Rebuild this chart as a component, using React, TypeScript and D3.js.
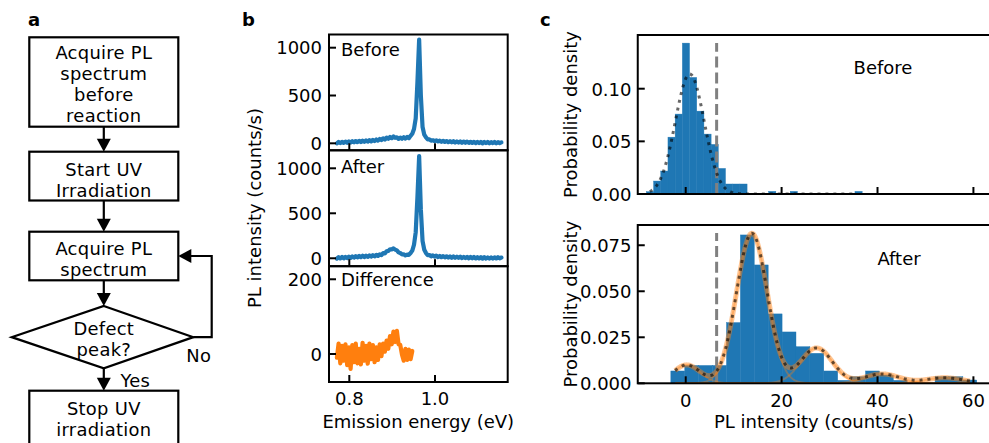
import React from "react";
import * as d3 from "d3";

const FONT = "'DejaVu Sans', sans-serif";
const BLUE = "#1f77b4";
const ORANGE = "#ff7f0e";

// ---------- Panel a: flowchart text ----------
const flowSteps: string[][] = [
  ["Acquire PL", "spectrum", "before", "reaction"],
  ["Start UV", "Irradiation"],
  ["Acquire PL", "spectrum"],
  ["Defect", "peak?"],
  ["Stop UV", "irradiation"],
];
const flowYes = "Yes";
const flowNo = "No";

// ---------- Panel b: spectra ----------
const energy = [
  0.771, 0.775, 0.779, 0.783, 0.787, 0.791, 0.795, 0.799, 0.803, 0.807,
  0.811, 0.815, 0.819, 0.823, 0.827, 0.831, 0.835, 0.839, 0.843, 0.847,
  0.851, 0.855, 0.859, 0.863, 0.867, 0.871, 0.875, 0.879, 0.883, 0.887,
  0.891, 0.895, 0.899, 0.903, 0.907, 0.911, 0.915, 0.919, 0.923, 0.927,
  0.931, 0.935, 0.939, 0.943, 0.947, 0.951, 0.955, 0.959, 0.963, 0.967,
  0.971, 0.975, 0.979, 0.983, 0.987, 0.991, 0.995, 0.999, 1.003, 1.007,
  1.011, 1.015, 1.019, 1.023, 1.027, 1.031, 1.035, 1.039, 1.043, 1.047,
  1.051, 1.055, 1.059, 1.063, 1.067, 1.071, 1.075, 1.079, 1.083, 1.087,
  1.091, 1.095, 1.099, 1.103, 1.107, 1.111, 1.115, 1.119, 1.123, 1.127,
  1.131, 1.135, 1.139, 1.143, 1.147, 1.151, 1.155,
];
const beforeCounts = [
  0, 14, 2, 16, 4, 18, 6, 20, 8, 22,
  10, 24, 12, 26, 14, 28, 16, 30, 18, 34,
  20, 36, 24, 40, 28, 46, 34, 52, 40, 60,
  48, 66, 54, 72, 58, 62, 46, 60, 48, 64,
  50, 66, 54, 78, 100, 150, 260, 640, 1085, 500,
  170, 90, 62, 42, 42, 28, 32, 24, 30, 20,
  28, 16, 26, 14, 24, 12, 22, 10, 22, 8,
  20, 8, 20, 6, 18, 6, 18, 4, 16, 4,
  16, 2, 16, 2, 14, 0, 14, 2, 14, 0,
  12, 2, 14, 0, 12, 2, 10,
];
const afterCounts = [
  -4, 12, -2, 14, 0, 16, 2, 18, 4, 20,
  8, 24, 10, 26, 12, 28, 14, 30, 16, 32,
  18, 34, 22, 38, 26, 44, 36, 58, 54, 78,
  82, 100, 100, 110, 96, 88, 66, 58, 44, 44,
  32, 40, 38, 58, 85, 150, 290, 680, 1135, 540,
  190, 95, 58, 36, 36, 22, 32, 18, 30, 14,
  26, 12, 24, 10, 22, 8, 20, 6, 20, 6,
  18, 4, 18, 2, 16, 2, 16, 0, 14, 0,
  14, -2, 12, -2, 12, -4, 12, -4, 10, -4,
  10, -4, 10, -2, 12, 0, 8,
];
const diffCounts = [
  -10, 28, -25, 22, -18, 26, -30, 18, -40, 24,
  -22, 28, -25, 14, -28, 30, -18, 22, -26, 28,
  -14, 24, -22, 18, -16, 26, -6, 28, 6, 36,
  14, 48, 26, 60, 32, 62, 26, 24, -2, -18,
  14, -16, 12, -14, 8,
];
const specLabels = ["Before", "After", "Difference"];
const specYTicks = [[0, 500, 1000], [0, 500, 1000], [0, 200]];
const energyTicks = [0.8, 1.0];

// ---------- Panel c: histograms ----------
const beforeEdges = [
  -8.2, -6.7, -5.2, -3.7, -2.2, -0.7, 0.8, 2.3, 3.8, 5.3, 6.8, 8.3, 9.8,
  11.3, 12.8, 14.3, 15.8, 17.3, 18.8, 20.3, 21.8, 23.3, 24.8, 26.3, 27.8,
  29.3, 30.8, 32.3, 33.8, 35.3, 36.8,
];
const beforeDensity = [
  0.0022, 0.0123, 0.0218, 0.054, 0.0759, 0.1433, 0.1107, 0.0787, 0.0569,
  0.0471, 0.0243, 0.0095, 0.0095, 0.0095, 0, 0, 0, 0.0025, 0, 0, 0.0025, 0,
  0, 0, 0, 0, 0, 0, 0, 0.0025,
];
const afterEdges = [
  -3.1, -0.2, 2.7, 5.6, 8.5, 11.4, 14.3, 17.2, 20.1, 23.0, 25.9, 28.8, 31.7,
  34.6, 37.5, 40.4, 43.3, 46.2, 49.1, 52.0, 54.9, 57.8, 60.7,
];
const afterDensity = [
  0.0067, 0.0097, 0.0097, 0.0097, 0.033, 0.0806, 0.0643, 0.0377, 0.0279,
  0.0199, 0.0163, 0.0067, 0.0016, 0.0036, 0.0067, 0.0045, 0.0016, 0, 0,
  0.0036, 0.0036, 0.0018,
];
const beforeFitMeans = [0.85];
const beforeFitAmps = [0.114];
const beforeFitSigmas = [3.0];
const beforeFitRange = [-7.5, 35];
const afterFitMeans = [0.2, 13.8, 27.3, 40.9, 54.0];
const afterFitAmps = [0.01, 0.0815, 0.0192, 0.0051, 0.003];
const afterFitSigmas = [2.8, 3.2, 3.3, 3.6, 3.9];
const afterFitRange = [-2.2, 59.3];
const threshold = 6.45;
const intensityTicks = [0, 20, 40, 60];
const densTicksTop = [0, 0.05, 0.1];
const densTicksBot = [0, 0.025, 0.05, 0.075];

const gauss = (x: number, m: number, a: number, s: number) =>
  a * Math.exp(-((x - m) * (x - m)) / (2 * s * s));

function Arrow({ x, y1, y2 }: { x: number; y1: number; y2: number }) {
  const hl = 13, hw = 7;
  return (
    <g>
      <line x1={x} y1={y1} x2={x} y2={y2 - hl + 1} stroke="#000" strokeWidth={2.2} />
      <polygon points={`${x - hw},${y2 - hl} ${x + hw},${y2 - hl} ${x},${y2}`} fill="#000" />
    </g>
  );
}

function MultiLine({ x, y0, lines, gap }: { x: number; y0: number; lines: string[]; gap: number }) {
  return (
    <text x={x} y={y0}>
      {lines.map((s, j) => (
        <tspan key={j} x={x} dy={j === 0 ? 0 : gap}>{s}</tspan>
      ))}
    </text>
  );
}

export default function App() {
  const fs = 18;
  const ffs = 17.9;
  // ----- panel a geometry
  const bL = 29.3, bR = 178.3, cx = 103.8;
  const gap = 21;
  const boxes = [
    { t: 37.3, b: 126.7, y0: 58.9 },
    { t: 151.7, b: 200.5, y0: 175.8 },
    { t: 231.7, b: 280.3, y0: 254.8 },
  ];
  const dia = { t: 306, b: 368.3, l: 11.7, r: 193.3, y0: 334.6 };
  const last = { t: 390.7, y0: 414.8 };

  // ----- panel b
  const xB = d3.scaleLinear().domain([0.7526, 1.1697]).range([329, 507.7]);
  const bRows = [
    { top: 34.5, bottom: 150.3, dom: [-73, 1138], data: beforeCounts, e: energy, color: BLUE, lbl: 56 },
    { top: 150.3, bottom: 266.2, dom: [-88, 1200], data: afterCounts, e: energy, color: BLUE, lbl: 172.5 },
    { top: 266.2, bottom: 382, dom: [-75, 235], data: diffCounts, e: energy.slice(0, diffCounts.length), color: ORANGE, lbl: 285.5 },
  ];

  // ----- panel c
  const xC = d3.scaleLinear().domain([-10, 63.5]).range([637.75, 990.2]);
  const cRows = [
    {
      top: 35, bottom: 194, y: d3.scaleLinear().domain([0, 0.151]).range([194, 35]),
      edges: beforeEdges, dens: beforeDensity, ticks: densTicksTop, fmt: d3.format(".2f"),
      means: beforeFitMeans, amps: beforeFitAmps, sigs: beforeFitSigmas, range: beforeFitRange,
      label: "Before", lx: 883, ly: 74, comps: false,
    },
    {
      top: 225, bottom: 383.3, y: d3.scaleLinear().domain([0, 0.086]).range([383.3, 225]),
      edges: afterEdges, dens: afterDensity, ticks: densTicksBot, fmt: d3.format(".3f"),
      means: afterFitMeans, amps: afterFitAmps, sigs: afterFitSigmas, range: afterFitRange,
      label: "After", lx: 899, ly: 265, comps: true,
    },
  ];

  const tl = 7;
  const sw = 2;

  return (
    <svg width={989} height={443} style={{ position: "absolute", left: 0, top: 0, background: "#fff" }} fontFamily={FONT}>
      <defs>
        {bRows.map((r, i) => (
          <clipPath id={`cb${i}`} key={i}>
            <rect x={329} y={r.top} width={507.7 - 329} height={r.bottom - r.top} />
          </clipPath>
        ))}
        {cRows.map((r, i) => (
          <clipPath id={`cc${i}`} key={i}>
            <rect x={637.75} y={r.top} width={990.2 - 637.75} height={r.bottom - r.top} />
          </clipPath>
        ))}
      </defs>

      {/* panel letters */}
      <text x={28} y={26} fontSize={fs} fontWeight="bold">a</text>
      <text x={242} y={26} fontSize={fs} fontWeight="bold">b</text>
      <text x={540} y={26} fontSize={fs} fontWeight="bold">c</text>

      {/* ---------- Panel a ---------- */}
      <g fontSize={ffs} textAnchor="middle" letterSpacing={0.3}>
        {boxes.map((bx, i) => (
          <g key={i}>
            <rect x={bL} y={bx.t} width={bR - bL} height={bx.b - bx.t} fill="#fff" stroke="#000" strokeWidth={2.2} />
            <MultiLine x={cx} y0={bx.y0} lines={flowSteps[i]} gap={gap} />
          </g>
        ))}
        <polygon
          points={`${cx},${dia.t} ${dia.r},${(dia.t + dia.b) / 2} ${cx},${dia.b} ${dia.l},${(dia.t + dia.b) / 2}`}
          fill="#fff" stroke="#000" strokeWidth={2.2} strokeLinejoin="miter"
        />
        <MultiLine x={cx} y0={dia.y0} lines={flowSteps[3]} gap={gap} />
        <rect x={bL} y={last.t} width={bR - bL} height={80} fill="#fff" stroke="#000" strokeWidth={2.2} />
        <MultiLine x={cx} y0={last.y0} lines={flowSteps[4]} gap={gap} />
        <Arrow x={cx} y1={boxes[0].b} y2={boxes[1].t} />
        <Arrow x={cx} y1={boxes[1].b} y2={boxes[2].t} />
        <Arrow x={cx} y1={boxes[2].b} y2={dia.t} />
        <Arrow x={cx} y1={dia.b} y2={last.t} />
        <polyline
          points={`${dia.r},${(dia.t + dia.b) / 2} 211.7,${(dia.t + dia.b) / 2} 211.7,256 ${bR + 12},256`}
          fill="none" stroke="#000" strokeWidth={2.2}
        />
        <polygon points={`${bR},256 ${bR + 13},249 ${bR + 13},263`} fill="#000" />
        <text x={198.7} y={361.7}>{flowNo}</text>
        <text x={135.3} y={386.5}>{flowYes}</text>
      </g>

      {/* ---------- Panel b ---------- */}
      {bRows.map((r, i) => {
        const y = d3.scaleLinear().domain(r.dom).range([r.bottom, r.top]);
        const pts: [number, number][] = r.data.map((v, k) => [r.e[k], v]);
        const line = d3.line<[number, number]>().x((d) => xB(d[0])).y((d) => y(d[1]));
        return (
          <g key={i}>
            <path d={line(pts) || ""} fill="none" stroke={r.color} strokeWidth={4.2}
              strokeLinejoin="round" strokeLinecap="round" clipPath={`url(#cb${i})`} />
            {specYTicks[i].map((t) => (
              <g key={t}>
                <line x1={329} x2={329 + tl} y1={y(t)} y2={y(t)} stroke="#000" strokeWidth={sw} />
                <text x={322} y={y(t) + 6.8} fontSize={fs} textAnchor="end">{t}</text>
              </g>
            ))}
            {energyTicks.map((t) => (
              <line key={t} x1={xB(t)} x2={xB(t)} y1={r.bottom} y2={r.bottom - tl} stroke="#000" strokeWidth={sw} />
            ))}
            <text x={341} y={r.lbl} fontSize={fs}>{specLabels[i]}</text>
            <rect x={329} y={r.top} width={507.7 - 329} height={r.bottom - r.top} fill="none" stroke="#000" strokeWidth={sw} />
          </g>
        );
      })}
      {energyTicks.map((t) => (
        <text key={t} x={xB(t)} y={405} fontSize={fs} textAnchor="middle">{d3.format(".1f")(t)}</text>
      ))}
      <text x={418.3} y={428} fontSize={fs} textAnchor="middle">Emission energy (eV)</text>
      <text transform={`translate(261,208) rotate(-90)`} fontSize={fs} textAnchor="middle">PL intensity (counts/s)</text>

      {/* ---------- Panel c ---------- */}
      {cRows.map((r, i) => {
        const y = r.y;
        const xs = d3.range(r.range[0], r.range[1] + 0.001, 0.1);
        const total = d3.line<number>().x((x) => xC(x)).y((x) =>
          y(r.means.reduce((s, m, k) => s + gauss(x, m, r.amps[k], r.sigs[k]), 0))
        );
        const comp = (k: number) =>
          d3.line<number>().x((x) => xC(x)).y((x) => y(gauss(x, r.means[k], r.amps[k], r.sigs[k])))(xs) || "";
        return (
          <g key={i}>
            <g clipPath={`url(#cc${i})`}>
              {r.dens.map((d, k) =>
                d > 0 ? (
                  <rect key={k} x={xC(r.edges[k])} width={xC(r.edges[k + 1]) - xC(r.edges[k])}
                    y={y(d)} height={y(0) - y(d)} fill={BLUE} stroke={BLUE} strokeWidth={0.4} />
                ) : null
              )}
              <line x1={xC(threshold)} x2={xC(threshold)} y1={r.bottom} y2={r.bottom - 0.95 * (r.bottom - r.top)}
                stroke="#808080" strokeWidth={3} strokeDasharray="11 4.8" />
              {r.comps && r.means.map((_, k) => (
                <path key={k} d={comp(k)} fill="none" stroke={ORANGE} strokeOpacity={0.35} strokeWidth={2} />
              ))}
              {r.comps && (
                <path d={total(xs) || ""} fill="none" stroke={ORANGE} strokeOpacity={0.45} strokeWidth={5} />
              )}
              <path d={total(xs) || ""} fill="none" stroke="#000" strokeOpacity={0.6} strokeWidth={3}
                strokeDasharray="3 4.95" />
            </g>
            {r.ticks.map((t) => (
              <g key={t}>
                <line x1={637.75} x2={637.75 + tl} y1={y(t)} y2={y(t)} stroke="#000" strokeWidth={sw} />
                <text x={631.5} y={y(t) + 6.8} fontSize={fs} textAnchor="end">{r.fmt(t)}</text>
              </g>
            ))}
            {intensityTicks.map((t) => (
              <line key={t} x1={xC(t)} x2={xC(t)} y1={r.bottom} y2={r.bottom - tl} stroke="#000" strokeWidth={sw} />
            ))}
            <rect x={637.75} y={r.top} width={990.2 - 637.75} height={r.bottom - r.top} fill="none" stroke="#000" strokeWidth={sw} />
            <text x={r.lx} y={r.ly} fontSize={fs} textAnchor="middle">{r.label}</text>
            <text transform={`translate(577,${(r.top + r.bottom) / 2}) rotate(-90)`} fontSize={fs} textAnchor="middle">
              Probability density
            </text>
          </g>
        );
      })}
      {intensityTicks.map((t) => (
        <text key={t} x={xC(t)} y={406.5} fontSize={fs} textAnchor="middle">{t}</text>
      ))}
      <text x={814} y={428} fontSize={fs} textAnchor="middle">PL intensity (counts/s)</text>
    </svg>
  );
}
